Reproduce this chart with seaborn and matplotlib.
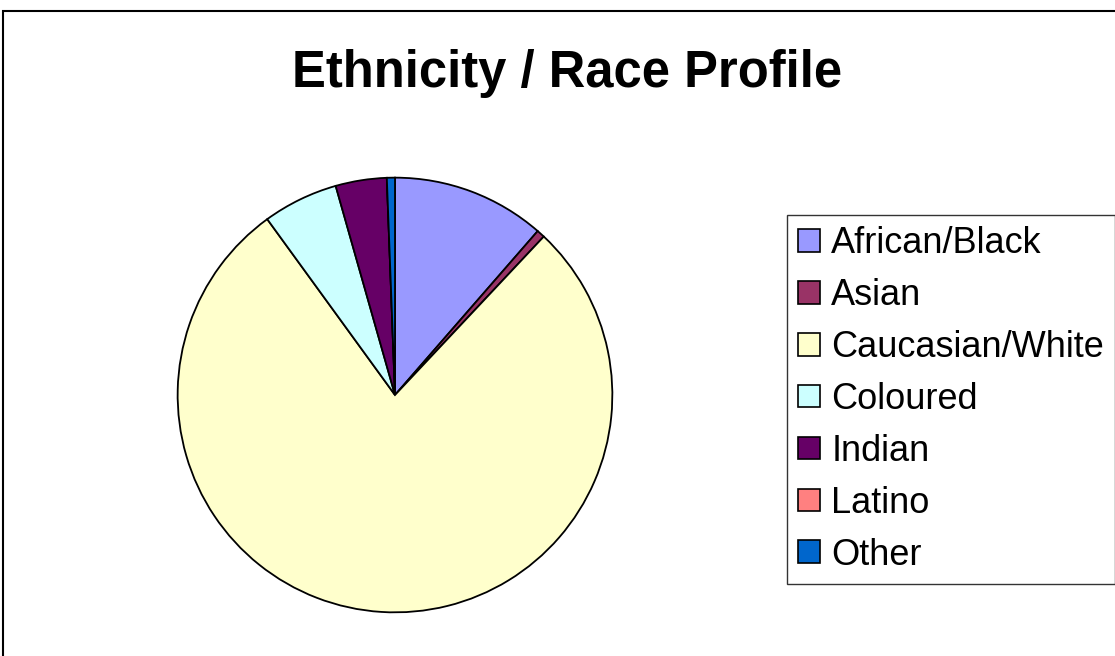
import matplotlib
matplotlib.use("Agg")
import matplotlib.pyplot as plt
import matplotlib.patches as mpatches
import seaborn as sns

groups = ["African/Black", "Asian", "Caucasian/White", "Coloured", "Indian", "Latino", "Other"]
shares = [11.4, 0.6, 78.0, 5.6, 3.8, 0.0, 0.6]
colors = ["#9999FF", "#993366", "#FFFFCC", "#CCFFFF", "#660066", "#FF8080", "#0066CC"]

sns.set_style("white")
plt.rcParams["font.family"] = ["Liberation Sans", "DejaVu Sans"]
plt.rcParams["text.color"] = "black"
palette = sns.color_palette(colors)

fig = plt.figure(figsize=(11.15, 6.56), dpi=100)
W, H = 1115, 656

# outer chart frame (cut off on right and bottom)
fig.patches.append(mpatches.Rectangle((3 / W, -0.1), 1.2, 1 - 11 / H + 0.1,
                                      transform=fig.transFigure, fill=False,
                                      edgecolor="black", linewidth=1.5))

fig.text(567 / W, 1 - 73 / H, "Ethnicity / Race Profile", ha="center", va="center",
         fontsize=36.5, fontweight="bold", color="black")

cx, cy, r = 395, 395, 218
ax = fig.add_axes([(cx - r) / W, (H - cy - r) / H, 2 * r / W, 2 * r / H])
wedges, _ = ax.pie(shares, colors=palette, startangle=90, counterclock=False,
                   wedgeprops=dict(edgecolor="black", linewidth=1.3))
ax.set_xlim(-1.003, 1.003)
ax.set_ylim(-1.003, 1.003)
ax.set_aspect("equal")

handles = [mpatches.Patch(facecolor=c, edgecolor="black", linewidth=1.2) for c in palette]
leg = fig.legend(handles, groups, loc="upper left", bbox_to_anchor=(787 / W, 1 - 215 / H),
                 fontsize=26, frameon=True, fancybox=False, shadow=False,
                 handlelength=0.6, handleheight=0.6, handletextpad=0.33,
                 labelspacing=0.47, borderpad=0.3, borderaxespad=0)
leg.get_frame().set_edgecolor("black")
leg.get_frame().set_linewidth(1.0)

fig.savefig("out.png", dpi=100)
